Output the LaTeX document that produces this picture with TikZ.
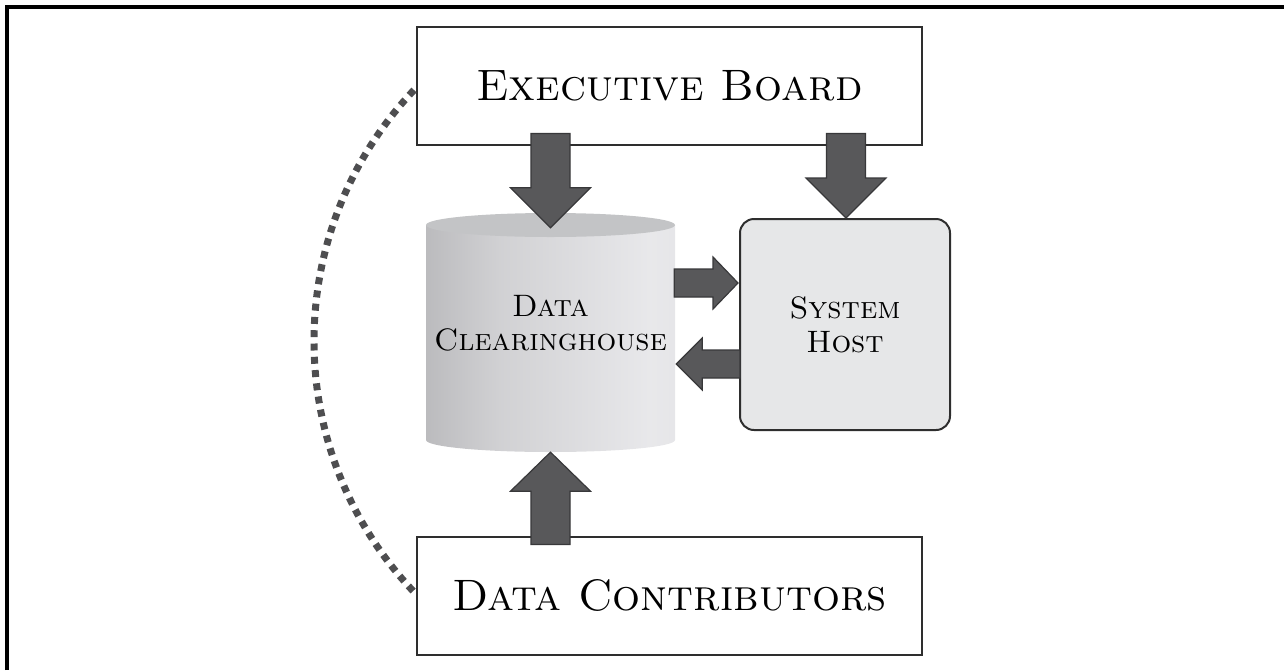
\documentclass[tikz,border=0pt]{standalone}
\usetikzlibrary{calc}

\definecolor{arrowfill}{HTML}{58585A}
\definecolor{arrowline}{HTML}{38383A}
\definecolor{boxline}{HTML}{2E2E2E}
\definecolor{hostfill}{HTML}{E6E7E8}
\definecolor{dotcol}{HTML}{4E4E50}
\definecolor{cyltop}{HTML}{C3C4C6}

% body of the drum: darker on the left, light towards the right
\pgfdeclarehorizontalshading{cylbody}{100bp}{%
  rgb(0bp)=(0.55,0.55,0.56);
  rgb(12bp)=(0.66,0.66,0.67);
  rgb(40bp)=(0.82,0.82,0.83);
  rgb(70bp)=(0.91,0.91,0.92);
  rgb(88bp)=(0.88,0.88,0.89);
  rgb(100bp)=(0.72,0.72,0.73)}

% broad block arrow: from, to, half shaft width, half head width, head length
\newcommand\fatarrow[5]{%
  \draw[blockarrow] let \p1=(#1), \p2=(#2),
    \n1={veclen(\x2-\x1,\y2-\y1)},
    \n2={(\x2-\x1)/\n1}, \n3={(\y2-\y1)/\n1} in
    ({\x1+(\n3)*(#3)},{\y1-(\n2)*(#3)}) --
    ({\x2-(\n2)*(#5)+(\n3)*(#3)},{\y2-(\n3)*(#5)-(\n2)*(#3)}) --
    ({\x2-(\n2)*(#5)+(\n3)*(#4)},{\y2-(\n3)*(#5)-(\n2)*(#4)}) --
    (\p2) --
    ({\x2-(\n2)*(#5)-(\n3)*(#4)},{\y2-(\n3)*(#5)+(\n2)*(#4)}) --
    ({\x2-(\n2)*(#5)-(\n3)*(#3)},{\y2-(\n3)*(#5)+(\n2)*(#3)}) --
    ({\x1-(\n3)*(#3)},{\y1+(\n2)*(#3)}) -- cycle;}

\newcommand\bigcaps{\fontsize{44}{48}\selectfont\scshape}
\newcommand\midcaps{\fontsize{31}{34}\selectfont\scshape}

\tikzset{
  plainbox/.style={draw=boxline, line width=2pt, fill=white,
    minimum width=505, minimum height=118, inner sep=0pt, font=\bigcaps},
  hostbox/.style={draw=boxline, line width=2pt, fill=hostfill,
    rounded corners=14pt, minimum width=210, minimum height=211,
    align=center, font=\midcaps},
  blockarrow/.style={fill=arrowfill, draw=arrowline, line width=1.2pt,
    line join=miter},
  dotted arc/.style={draw=dotcol, line width=7pt,
    dash pattern=on 7pt off 6.3pt},
}

\begin{document}
\begin{tikzpicture}[x=1pt, y=-1pt]
\useasboundingbox (0,0) rectangle (1284,670);

% frame edges
\draw[line width=4pt] (7,670) -- (7,7) -- (1284,7);

% boxes
\node[plainbox] (exec) at (669.5,85.5) {Executive Board};
\node[plainbox] (dc) at (669.5,595.5) {Data Contributors};
\node[hostbox] (host) at (845,324.5) {System\\Host};

% the clearinghouse drum
\node[inner sep=0pt, minimum width=249, minimum height=239] (cyl) at (550.5,332.5) {};
\path[shading=cylbody]
  (426,225) -- (426,440) arc[start angle=180, end angle=0, x radius=124.5, y radius=12]
  -- (675,225) -- cycle;
\fill[cyltop] (550.5,225) ellipse[x radius=124.5, y radius=12];
\node[align=center, font=\midcaps] (ch) at (550.5,323) {Data\\Clearinghouse};

% dotted link from the board down to the contributors
\coordinate (arcA) at ($(exec.west)+(-2,4.5)$);
\draw[dotted arc] (arcA) arc[start angle=-136.55, end angle=-223.45, radius=365];

% arrow end points
\coordinate (a1) at ($(exec.south -| cyl.north)+(0,-12)$);
\coordinate (b1) at ($(cyl.north)+(0,15)$);
\coordinate (a2) at ($(exec.south -| host.north)+(1,-12)$);
\coordinate (b2) at ($(host.north)+(1,0)$);
\coordinate (r2) at ($(host.west)+(-1,-41.5)$);
\coordinate (r1) at ($(r2 -| cyl.east)+(-1,0)$);
\coordinate (l1) at ($(host.west)+(1,39.5)$);
\coordinate (l2) at ($(l1 -| cyl.east)+(1,0)$);
\coordinate (u1) at ($(dc.north -| cyl.south)+(0,9)$);
\coordinate (u2) at (cyl.south);

\fatarrow{a1}{b1}{19.5}{40}{40}
\fatarrow{a2}{b2}{19.5}{40}{40}
\fatarrow{r1}{r2}{14}{26}{25}
\fatarrow{l1}{l2}{14}{26}{26}
\fatarrow{u1}{u2}{19.5}{40}{39}
\end{tikzpicture}
\end{document}
